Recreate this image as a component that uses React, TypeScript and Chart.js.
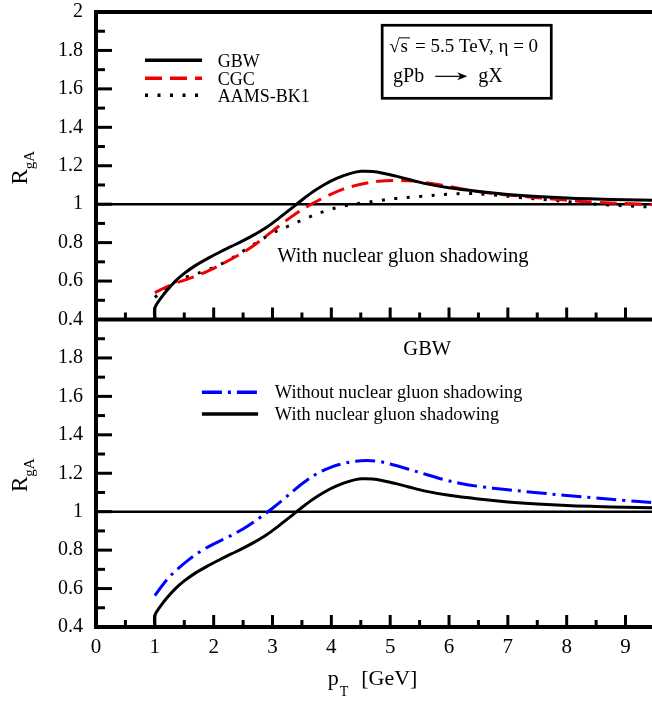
import React, { useEffect, useRef } from 'react';
import { Chart, registerables } from 'chart.js';

Chart.register(...registerables);

const SERIF = '"Liberation Serif", "Times New Roman", Times, serif';

// Axis ranges and ticks
const X_MIN = 0;
const X_MAX = 9.45;
const Y_MIN = 0.4;
const Y_MAX = 2;
const X_STEP = 1;
const Y_STEP = 0.2;

// GBW, with nuclear gluon shadowing (shown in both panels)
const gbwX = [1.0, 1.0, 1.1, 1.2, 1.35, 1.5, 1.7, 1.9, 2.1, 2.3, 2.5, 2.7, 2.9, 3.1, 3.3, 3.5, 3.7, 3.9, 4.1, 4.3, 4.5, 4.7, 4.9, 5.1, 5.3, 5.6, 6.0, 6.5, 7.0, 7.5, 8.0, 8.5, 9.0, 9.45];
const gbwY = [0.40, 0.46, 0.51, 0.55, 0.60, 0.64, 0.683, 0.718, 0.75, 0.78, 0.81, 0.843, 0.88, 0.925, 0.973, 1.022, 1.067, 1.105, 1.135, 1.158, 1.171, 1.17, 1.16, 1.146, 1.13, 1.107, 1.085, 1.066, 1.051, 1.04, 1.032, 1.027, 1.023, 1.02];

// Top panel: CGC and AAMS-BK1
const cgcX = [1.0, 1.3, 1.6, 1.9, 2.2, 2.6, 3.0, 3.3, 3.6, 3.9, 4.2, 4.5, 4.8, 5.1, 5.4, 5.7, 6.0, 6.5, 7.0, 7.5, 8.0, 8.5, 9.0, 9.45];
const cgcY = [0.54, 0.583, 0.615, 0.652, 0.698, 0.768, 0.86, 0.93, 0.99, 1.038, 1.078, 1.104, 1.119, 1.124, 1.12, 1.108, 1.092, 1.066, 1.048, 1.034, 1.02, 1.01, 1.003, 0.998];

const aamsX = [1.0, 1.3, 1.6, 1.9, 2.2, 2.6, 3.0, 3.3, 3.6, 3.9, 4.2, 4.5, 4.8, 5.1, 5.5, 6.0, 6.3, 6.7, 7.2, 7.7, 8.2, 8.7, 9.1, 9.45];
const aamsY = [0.515, 0.59, 0.628, 0.658, 0.70, 0.775, 0.85, 0.89, 0.93, 0.965, 0.99, 1.005, 1.018, 1.03, 1.04, 1.052, 1.056, 1.05, 1.035, 1.022, 1.008, 0.996, 0.99, 0.985];

// Bottom panel: GBW without nuclear gluon shadowing
const noShadX = [1.0, 1.2, 1.4, 1.6, 1.8, 2.0, 2.2, 2.4, 2.6, 2.8, 3.0, 3.2, 3.4, 3.6, 3.8, 4.0, 4.2, 4.4, 4.6, 4.8, 5.0, 5.3, 5.6, 5.9, 6.2, 6.5, 7.0, 7.5, 8.0, 8.5, 9.0, 9.45];
const noShadY = [0.563, 0.645, 0.705, 0.756, 0.798, 0.832, 0.862, 0.893, 0.93, 0.972, 1.018, 1.068, 1.12, 1.167, 1.205, 1.232, 1.25, 1.262, 1.266, 1.262, 1.248, 1.222, 1.195, 1.168, 1.147, 1.132, 1.114, 1.099, 1.084, 1.071, 1.058, 1.047];

// Reference line R = 1
const unityX = [0, 9.45];
const unityY = [1, 1];

const pts = (xs: number[], ys: number[]) => xs.map((x, i) => ({ x, y: ys[i] }));

const RED = '#f00000';
const BLUE = '#0000ff';
const DASH_CGC = [17, 8];
const DASH_DOT = [3, 9.5];
const DASH_DASHDOT = [20, 6, 3, 6];

const fmt = (v: number) => String(Number(Number(v).toFixed(2)));

const framePlugin = {
  id: 'frame',
  afterDraw(chart: any) {
    const ctx: CanvasRenderingContext2D = chart.ctx;
    const xs = chart.scales.x;
    const yt = chart.scales.yTop;
    const yb = chart.scales.yBot;
    const px = (v: number) => xs.getPixelForValue(v);
    const pt = (v: number) => yt.getPixelForValue(v);
    const pb = (v: number) => yb.getPixelForValue(v);
    const L = px(X_MIN);
    const R = px(X_MAX);
    const top = pt(Y_MAX);
    const mid = pt(Y_MIN);
    const bot = pb(Y_MIN);

    ctx.save();
    ctx.strokeStyle = '#000';
    ctx.fillStyle = '#000';
    ctx.lineCap = 'butt';
    ctx.setLineDash([]);

    // inward ticks on bottom edges of each panel
    ctx.lineWidth = 3;
    for (let k = 1; k <= 18; k++) {
      const v = k * 0.5;
      const len = k % 2 === 0 ? 12 : 7;
      for (const base of [mid, bot]) {
        ctx.beginPath();
        ctx.moveTo(px(v), base);
        ctx.lineTo(px(v), base - len);
        ctx.stroke();
      }
    }
    // inward ticks on left axis
    for (let k = 1; k <= 15; k++) {
      const v = Y_MIN + k * 0.1;
      const len = k % 2 === 0 ? 16 : 9;
      for (const f of [pt, pb]) {
        ctx.beginPath();
        ctx.moveTo(L, f(v));
        ctx.lineTo(L + len, f(v));
        ctx.stroke();
      }
    }
    // frame
    ctx.lineWidth = 4;
    ctx.beginPath();
    ctx.moveTo(L, top - 2);
    ctx.lineTo(L, bot + 2);
    for (const yy of [top, mid, bot]) {
      ctx.moveTo(L - 2, yy);
      ctx.lineTo(R, yy);
    }
    ctx.stroke();

    const legendLine = (x1: number, x2: number, y: number, color: string, dash: number[], w: number) => {
      ctx.save();
      ctx.strokeStyle = color;
      ctx.lineWidth = w;
      ctx.setLineDash(dash);
      ctx.beginPath();
      ctx.moveTo(x1, y);
      ctx.lineTo(x2, y);
      ctx.stroke();
      ctx.restore();
    };

    ctx.textBaseline = 'alphabetic';
    ctx.textAlign = 'left';

    // top legend
    const lx1 = px(0.833), lx2 = px(1.803), ltx = px(2.07);
    const ly = [pt(1.749), pt(1.655), pt(1.567)];
    legendLine(lx1, lx2, ly[0], '#000', [], 3.5);
    legendLine(lx1, lx2, ly[1], RED, DASH_CGC, 3.5);
    legendLine(lx1, lx2, ly[2], '#000', DASH_DOT, 3.5);
    ctx.font = `18px ${SERIF}`;
    ctx.fillText('GBW', ltx, ly[0] + 6.5);
    ctx.fillText('CGC', ltx, ly[1] + 6.5);
    ctx.fillText('AAMS-BK1', ltx, ly[2] + 6.5);

    // info box
    const bx1 = px(4.864), bx2 = px(7.738), by1 = pt(1.931), by2 = pt(1.551);
    ctx.lineWidth = 2.7;
    ctx.strokeRect(bx1, by1, bx2 - bx1, by2 - by1);
    // line 1: sqrt(s) = 5.5 TeV, eta = 0
    ctx.font = `19px ${SERIF}`;
    let cx = px(4.983);
    const b1 = pt(1.79);
    ctx.fillText('\u221A', cx, b1);
    cx += ctx.measureText('\u221A').width;
    const sW = ctx.measureText('s').width;
    ctx.fillText('s', cx + 1, b1);
    ctx.lineWidth = 1;
    ctx.beginPath();
    ctx.moveTo(cx - 0.5, b1 - 14.5);
    ctx.lineTo(cx + sW + 3, b1 - 14.5);
    ctx.stroke();
    ctx.fillText('= 5.5 TeV, \u03B7 = 0', cx + sW + 8, b1);
    // line 2: gPb -> gX
    ctx.font = `20px ${SERIF}`;
    const b2 = pt(1.634);
    ctx.fillText('gPb', px(5.05), b2);
    const ax1 = px(5.765), ax2 = px(6.31), ay = b2 - 6;
    ctx.lineWidth = 1.2;
    ctx.beginPath();
    ctx.moveTo(ax1, ay);
    ctx.lineTo(ax2 - 3, ay);
    ctx.stroke();
    ctx.beginPath();
    ctx.moveTo(ax2, ay);
    ctx.lineTo(ax2 - 10, ay - 4);
    ctx.lineTo(ax2 - 7, ay);
    ctx.lineTo(ax2 - 10, ay + 4);
    ctx.closePath();
    ctx.fill();
    ctx.fillText('gX', px(6.497), b2);

    // top panel note
    ctx.font = `20.5px ${SERIF}`;
    ctx.fillText('With nuclear gluon shadowing', px(3.08), pt(0.698));

    // bottom panel
    ctx.font = `20.5px ${SERIF}`;
    ctx.textAlign = 'center';
    ctx.fillText('GBW', px(5.63), pb(1.815));
    ctx.textAlign = 'left';
    const bl1 = px(1.80), bl2 = px(2.755), btx = px(3.04);
    const bly = [pb(1.622), pb(1.508)];
    legendLine(bl1, bl2, bly[0], BLUE, DASH_DASHDOT, 3.5);
    legendLine(bl1, bl2, bly[1], '#000', [], 3.5);
    ctx.font = `18.3px ${SERIF}`;
    ctx.fillText('Without nuclear gluon shadowing', btx, bly[0] + 6);
    ctx.fillText('With nuclear gluon shadowing', btx, bly[1] + 6);

    // y titles R_gA
    const drawRgA = (cy: number) => {
      ctx.save();
      ctx.translate(27, cy);
      ctx.rotate(-Math.PI / 2);
      ctx.font = `23px ${SERIF}`;
      const w1 = ctx.measureText('R').width;
      ctx.font = `15px ${SERIF}`;
      const w2 = ctx.measureText('gA').width;
      const start = -(w1 + w2) / 2;
      ctx.font = `23px ${SERIF}`;
      ctx.fillText('R', start, 0);
      ctx.font = `15px ${SERIF}`;
      ctx.fillText('gA', start + w1, 7);
      ctx.restore();
    };
    drawRgA((top + mid) / 2 + 2);
    drawRgA((mid + bot) / 2 + 2);

    // x title p_T [GeV]
    ctx.font = `22px ${SERIF}`;
    const wp = ctx.measureText('p').width;
    const wg = ctx.measureText('[GeV]').width;
    ctx.font = `14px ${SERIF}`;
    const wt = ctx.measureText('T').width;
    const total = wp + 1 + wt + 13 + wg;
    const sx = px(4.70) - total / 2;
    const xb = bot + 58;
    ctx.font = `22px ${SERIF}`;
    ctx.fillText('p', sx, xb);
    ctx.fillText('[GeV]', sx + wp + 1 + wt + 13, xb);
    ctx.font = `14px ${SERIF}`;
    ctx.fillText('T', sx + wp + 1, xb + 11);

    ctx.restore();
  },
};

export default function App() {
  const ref = useRef<HTMLCanvasElement | null>(null);

  useEffect(() => {
    document.body.style.margin = '0';
    const canvas = ref.current;
    if (!canvas) return;

    const line = (label: string, xs: number[], ys: number[], axis: string, color: string, dash: number[], width = 3, tension = 0.35) => ({
      label,
      data: pts(xs, ys),
      yAxisID: axis,
      borderColor: color,
      backgroundColor: color,
      borderWidth: width,
      borderDash: dash,
      pointRadius: 0,
      fill: false,
      cubicInterpolationMode: 'default' as const,
      tension,
    });

    const yTicks = (hideTop: boolean) => ({
      stepSize: Y_STEP,
      autoSkip: false,
      padding: 13,
      color: '#000',
      font: { family: SERIF, size: 20 },
      callback: (v: any) => (hideTop && Math.abs(Number(v) - Y_MAX) < 1e-6 ? '' : fmt(v)),
    });

    const fitY = (s: any) => {
      s.width = 96;
      s.paddingTop = 0;
      s.paddingBottom = 0;
    };

    const chart = new Chart(canvas, {
      type: 'line',
      data: {
        datasets: [
          line('GBW', gbwX, gbwY, 'yTop', '#000', []),
          line('CGC', cgcX, cgcY, 'yTop', RED, DASH_CGC),
          line('AAMS-BK1', aamsX, aamsY, 'yTop', '#000', DASH_DOT),
          line('R=1 (top)', unityX, unityY, 'yTop', '#000', [], 2.5, 0),
          line('Without nuclear gluon shadowing', noShadX, noShadY, 'yBot', BLUE, DASH_DASHDOT),
          line('With nuclear gluon shadowing', gbwX, gbwY, 'yBot', '#000', []),
          line('R=1 (bottom)', unityX, unityY, 'yBot', '#000', [], 2.5, 0),
        ],
      },
      options: {
        animation: false,
        responsive: false,
        maintainAspectRatio: false,
        layout: { padding: { top: 12, right: 0, bottom: 0, left: 0 } },
        plugins: {
          legend: { display: false },
          title: { display: false },
          tooltip: { enabled: false },
        },
        scales: {
          x: {
            type: 'linear',
            min: X_MIN,
            max: X_MAX,
            grid: { display: false, drawTicks: false },
            border: { display: false },
            ticks: {
              stepSize: X_STEP,
              includeBounds: false,
              autoSkip: false,
              maxRotation: 0,
              padding: 8,
              color: '#000',
              font: { family: SERIF, size: 21 },
              callback: (v: any) => fmt(v),
            },
            afterFit: (s: any) => {
              s.height = 76;
              s.paddingLeft = 0;
              s.paddingRight = 0;
            },
          } as any,
          yTop: {
            type: 'linear',
            position: 'left',
            stack: 'panels',
            stackWeight: 1,
            weight: 1,
            min: Y_MIN,
            max: Y_MAX,
            grid: { display: false, drawTicks: false },
            border: { display: false },
            ticks: yTicks(false),
            afterFit: fitY,
          } as any,
          yBot: {
            type: 'linear',
            position: 'left',
            stack: 'panels',
            stackWeight: 1,
            weight: 0,
            min: Y_MIN,
            max: Y_MAX,
            grid: { display: false, drawTicks: false },
            border: { display: false },
            ticks: yTicks(true),
            afterFit: fitY,
          } as any,
        },
      },
      plugins: [framePlugin],
    });

    return () => {
      chart.destroy();
    };
  }, []);

  return (
    <div style={{ width: 652, height: 703, position: 'relative', background: '#fff' }}>
      <canvas ref={ref} width={652} height={703} style={{ display: 'block' }} />
    </div>
  );
}
